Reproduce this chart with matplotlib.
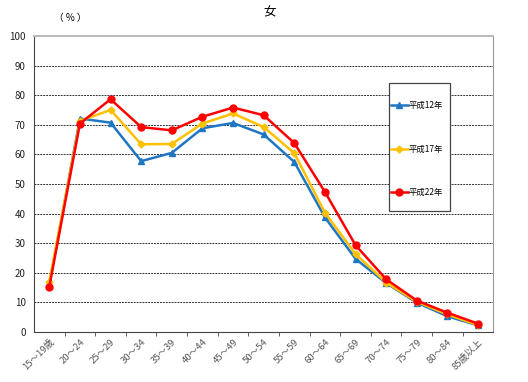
import numpy as np
import matplotlib
matplotlib.use('Agg')
import matplotlib.pyplot as plt
from matplotlib.ticker import FixedLocator
from matplotlib.patches import Rectangle

plt.rcParams['font.family'] = ['Noto Sans CJK JP', 'DejaVu Sans']

ages = ['15〜19歳', '20〜24', '25〜29', '30〜34', '35〜39', '40〜44', '45〜49',
        '50〜54', '55〜59', '60〜64', '65〜69', '70〜74', '75〜79', '80〜84', '85歳以上']
h12 = [16.0, 72.1, 70.7, 57.7, 60.5, 68.8, 70.6, 66.7, 57.4, 38.7, 24.7, 16.5, 9.9, 5.3, 2.2]
h17 = [17.0, 71.3, 75.0, 63.4, 63.5, 70.4, 73.8, 69.2, 60.4, 40.3, 26.3, 16.7, 10.2, 5.9, 2.3]
h22 = [15.3, 70.4, 78.6, 69.2, 68.1, 72.7, 75.8, 73.2, 63.8, 47.3, 29.3, 17.8, 10.6, 6.5, 2.8]

fig = plt.figure(figsize=(5.28, 3.82), dpi=100)
ax = fig.add_axes([0.0644, 0.131, 0.870, 0.775])

x = np.arange(len(ages))
ax.plot(x, h12, color='#1f77c4', lw=1.8, marker='^', ms=5, label='平成12年', zorder=3)
ax.plot(x, h17, color='#ffc000', lw=1.8, marker='D', ms=3.5, label='平成17年', zorder=4)
ax.plot(x, h22, color='#ff0000', lw=1.8, marker='o', ms=5, label='平成22年', zorder=5)

ax.set_xlim(-0.5, len(ages) - 0.5)
ax.set_ylim(0, 100)
ax.set_yticks(range(0, 101, 10))
ax.tick_params(axis='y', length=0, labelsize=7, colors='#222222', pad=6)
ax.set_xticks(x)
ax.set_xticklabels(ages, rotation=45, ha='right', rotation_mode='anchor', fontsize=6.8, color='#555555')
ax.tick_params(axis='x', which='major', length=0, pad=4)
ax.xaxis.set_minor_locator(FixedLocator(np.arange(0.5, len(ages) - 1, 1)))
ax.tick_params(axis='x', which='minor', length=3, color='#444444')

for v in range(10, 100, 10):
    ax.axhline(v, color='#333333', lw=0.7, ls=(0, (2, 1)), zorder=1)

ax.spines['left'].set_color('#444444')
ax.spines['bottom'].set_color('#444444')
ax.spines['top'].set_color('#bbbbbb')
ax.spines['right'].set_color('#999999')
ax.spines['top'].set_linewidth(1.5)

# legend box drawn separately (tall, narrow frame)
fig.patches.append(Rectangle((389 / 528, 1 - 211 / 382), 61 / 528, 128 / 382,
                             transform=fig.transFigure, facecolor='white',
                             edgecolor='#444444', lw=0.9, zorder=6))
leg = fig.legend(*ax.get_legend_handles_labels(), loc='upper left',
                 bbox_to_anchor=(391 / 528, 1 - 101 / 382), fontsize=6,
                 labelspacing=4.15, handlelength=2.0, handletextpad=0.1,
                 borderpad=0, borderaxespad=0, frameon=False)
leg.set_zorder(7)

fig.text(0.511, 0.965, '女', ha='center', va='center', fontsize=9)
fig.text(0.133, 0.953, '（ % ）', ha='center', va='center', fontsize=7)

fig.savefig('out.png', dpi=100)
